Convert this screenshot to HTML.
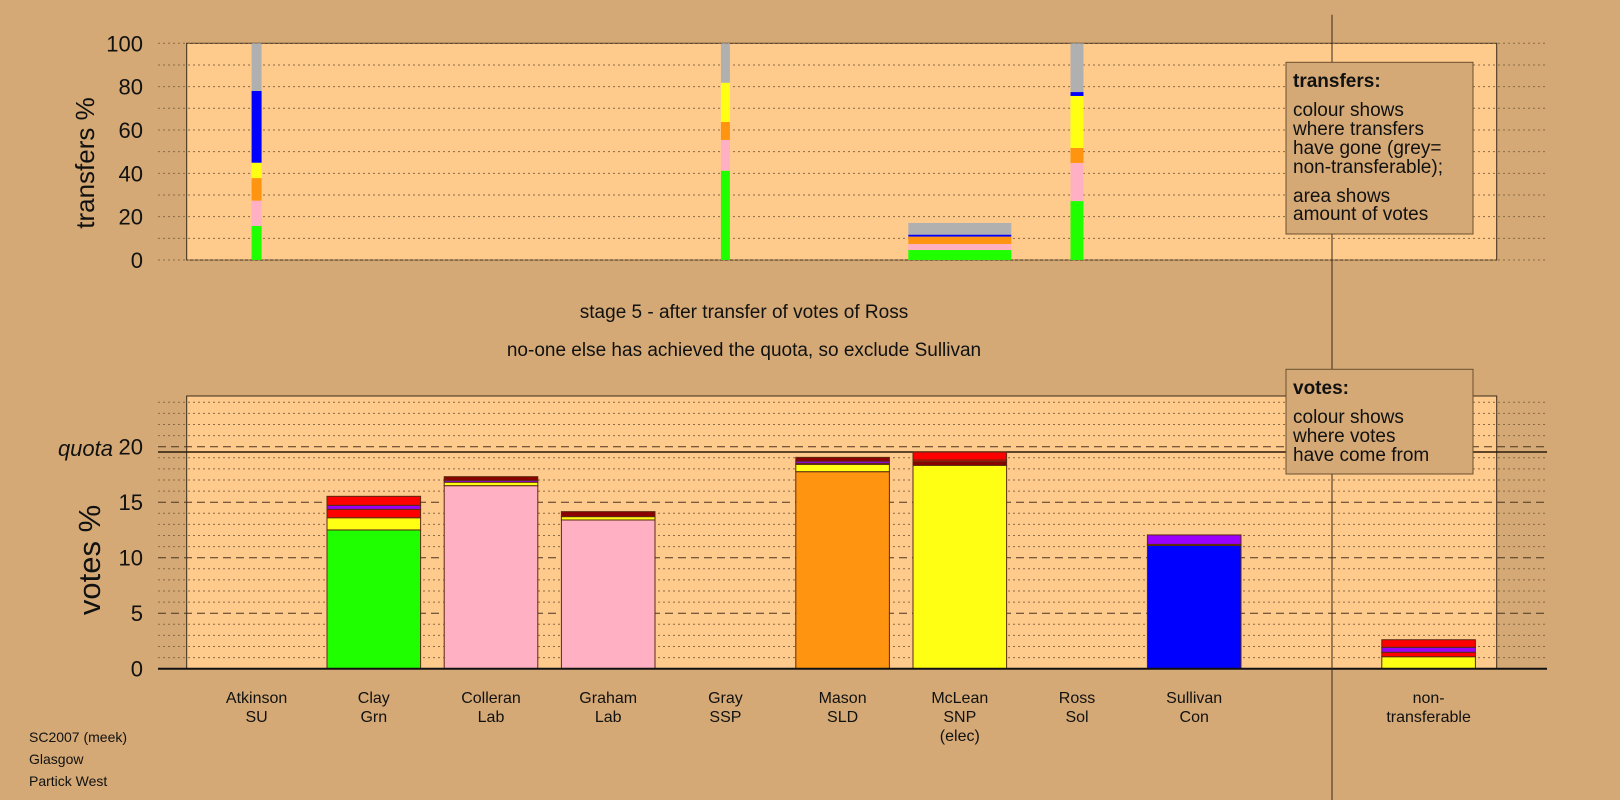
<!DOCTYPE html>
<html><head><meta charset="utf-8"><style>
html,body{margin:0;padding:0;background:#d4a975;}
svg{display:block;font-family:"Liberation Sans",sans-serif;}
</style></head><body>
<svg id="chart" width="1620" height="800" viewBox="0 0 1620 800" xmlns="http://www.w3.org/2000/svg">
<rect x="0" y="0" width="1620" height="800" fill="#d4a975"/>
<rect x="186.7" y="43.3" width="1310" height="216.7" fill="#ffcb8c" stroke="#3a2a1a" stroke-width="1"/>
<rect x="186.7" y="396" width="1310" height="272.7" fill="#ffcb8c" stroke="#3a2a1a" stroke-width="1"/>
<g id="grid"></g>
<g id="marks"></g>
<line x1="1332" y1="14.7" x2="1332" y2="800" stroke="#3a2a1a" stroke-width="1"/>
<text transform="translate(94,163) rotate(-90)" text-anchor="middle" font-size="26" fill="#111">transfers %</text>
<text transform="translate(100,560) rotate(-90)" text-anchor="middle" font-size="31" fill="#111">votes %</text>
<text x="113" y="456" text-anchor="end" font-size="22" font-style="italic" fill="#111">quota</text>
<text x="744" y="318" text-anchor="middle" font-size="19" fill="#111">stage 5 - after transfer of votes of Ross</text>
<text x="744" y="356" text-anchor="middle" font-size="19" fill="#111">no-one else has achieved the quota, so exclude Sullivan</text>
<g>
<rect x="1286" y="62.3" width="187" height="171.7" fill="#d4a975" stroke="#6a5030" stroke-width="1"/>
<text x="1293" y="87" font-size="19" font-weight="bold" fill="#111">transfers:</text>
<text x="1293" y="116" font-size="19" fill="#111">colour shows</text>
<text x="1293" y="135" font-size="19" fill="#111">where transfers</text>
<text x="1293" y="154" font-size="19" fill="#111">have gone (grey=</text>
<text x="1293" y="173" font-size="19" fill="#111">non-transferable);</text>
<text x="1293" y="202" font-size="19" fill="#111">area shows</text>
<text x="1293" y="220" font-size="19" fill="#111">amount of votes</text>
</g>
<g>
<rect x="1286" y="369.3" width="187" height="104.7" fill="#d4a975" stroke="#6a5030" stroke-width="1"/>
<text x="1293" y="394" font-size="19" font-weight="bold" fill="#111">votes:</text>
<text x="1293" y="423" font-size="19" fill="#111">colour shows</text>
<text x="1293" y="442" font-size="19" fill="#111">where votes</text>
<text x="1293" y="461" font-size="19" fill="#111">have come from</text>
</g>
<g font-size="14" fill="#111">
<text x="29" y="742">SC2007 (meek)</text>
<text x="29" y="764">Glasgow</text>
<text x="29" y="786">Partick West</text>
</g>
</svg>
<script>
const candidates = ["Atkinson","Clay","Colleran","Graham","Gray","Mason","McLean","Ross","Sullivan","","non-"];
const parties = ["SU","Grn","Lab","Lab","SSP","SLD","SNP","Sol","Con","","transferable"];
const notes = ["","","","","","","(elec)","","","",""];
const segColors = ["#1fff00","#ffb0c2","#ff9410","#ffff14","#0000ff","#ff0000","#9a00ff","#8b0000","#b0b0b0"];
// transfers (top chart): cumulative segment tops in % ; colour index per segment
const transferSlots = [0, 4, 7, 6];
const transferWidths = [10, 9, 13, 103];
const transferTops = [[15.7,27.4,37.8,44.9,78,100],[41.2,55.4,63.7,81.8,100],[27.2,44.8,51.7,75.7,77.5,100],[4.6,7.4,10.8,11.7,17.1]];
const transferCols = [[0,1,2,3,4,8],[0,1,2,3,8],[0,1,2,3,4,8],[0,1,2,4,8]];
// votes (bottom chart): cumulative tops
const voteSlots = [1,2,3,5,6,8,10];
const voteTops = [[12.5,13.6,14.36,14.72,15.53],[16.49,16.8,16.97,17.3],[13.4,13.7,14.15],[17.75,18.41,18.5,18.7,19.04],[18.32,18.65,18.8,19.52],[11.1,11.2,12.05],[1.08,1.48,1.93,2.61]];
const voteCols = [[0,3,5,6,5],[1,3,6,7],[1,3,7],[2,3,5,6,7],[3,7,5,5],[4,3,6],[3,5,6,5]];
const transferTicks = [0,20,40,60,80,100];
const voteTicks = [0,5,10,15,20];
const quota = 19.52;

const NS="http://www.w3.org/2000/svg";
const grid=document.getElementById('grid'), marks=document.getElementById('marks'), svg=document.getElementById('chart');
const xC=i=>256.6+i*117.2;
const yT=v=>260-v*2.167;
const yV=v=>668.7-v*11.1;
function mk(tag,attrs,parent){const e=document.createElementNS(NS,tag);for(const k in attrs)e.setAttribute(k,attrs[k]);parent.appendChild(e);return e;}
// top grid
for(let v=0;v<=100;v+=10){
  const l=mk('line',{x1:158,x2:1547,y1:yT(v),y2:yT(v),stroke:'#8a6a45','stroke-width':1,'stroke-dasharray':'2,3'},grid);
  
  
}
transferTicks.forEach(v=>{
  const t=mk('text',{x:143,y:yT(v)+8,'text-anchor':'end','font-size':22,fill:'#111'},svg);
  t.textContent=v;
  
  
});
// bottom grid
for(let v=1;v<=24;v++){
  if(v%5===0)continue;
  const l=mk('line',{x1:158,x2:1547,y1:yV(v),y2:yV(v),stroke:'#8a6a45','stroke-width':1,'stroke-dasharray':'2,3'},grid);
  
  
}
voteTicks.forEach(v=>{
  if(v>0){
    const l=mk('line',{x1:158,x2:1547,y1:yV(v),y2:yV(v),stroke:'#4a3520','stroke-width':1,'stroke-dasharray':'8,5'},grid);
    
    
  }
  const t=mk('text',{x:143,y:yV(v)+8,'text-anchor':'end','font-size':22,fill:'#111'},svg);
  t.textContent=v;
  
  
});
const q=mk('line',{x1:158,x2:1547,y1:yV(quota),y2:yV(quota),stroke:'#2a1a0a','stroke-width':1.5},grid);


// top marks
transferSlots.forEach((s,k)=>{
  let prev=0;
  transferTops[k].forEach((top,j)=>{
    const r=mk('rect',{x:xC(s)-transferWidths[k]/2,y:yT(top),width:transferWidths[k],height:yT(prev)-yT(top),fill:segColors[transferCols[k][j]]},marks);
    
    
    prev=top;
  });
});
// bottom marks
voteSlots.forEach((s,k)=>{
  let prev=0;
  voteTops[k].forEach((top,j)=>{
    const r=mk('rect',{x:xC(s)-46.8,y:yV(top),width:93.6,height:yV(prev)-yV(top),fill:segColors[voteCols[k][j]],stroke:'#5a2a10','stroke-width':1},marks);
    
    
    prev=top;
  });
});
const ax=mk('line',{x1:158,x2:1547,y1:yV(0),y2:yV(0),stroke:'#111','stroke-width':2},marks);


// x labels
candidates.forEach((c,i)=>{
  [c,parties[i],notes[i]].forEach((s,j)=>{
    if(!s)return;
    const t=mk('text',{x:xC(i),y:703+j*19,'text-anchor':'middle','font-size':16,fill:'#111'},svg);
    t.textContent=s;
    
    
  });
});
</script>
</body></html>
